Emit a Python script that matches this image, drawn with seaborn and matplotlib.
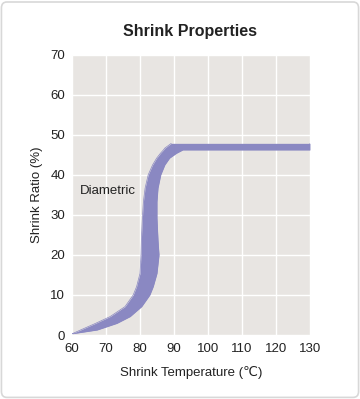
import numpy as np
import pandas as pd
import seaborn as sns
import matplotlib.pyplot as plt
from matplotlib.patches import FancyBboxPatch

# band: shrink ratio levels and the left / right edge temperatures
ratio = [0.3, 1.25, 2.9, 4.6, 7.1, 10, 12.1, 15.4, 20, 23.75, 29.2, 33.3, 36.7, 40, 42.5, 44.2, 45.4,
         46.25, 46.25, 46.7, 47.9]
temp_left = [60, 62.5, 66.9, 71.2, 75.6, 78.0, 79.0, 80.0, 80.3, 80.4, 80.7, 81.0, 81.5, 82.4, 83.7, 84.9, 86.0,
             86.9, 86.9, 87.3, 89.2]
temp_right = [60, 67.4, 73.2, 77.1, 80.5, 82.9, 83.9, 85.0, 85.6, 85.3, 85.0, 85.0, 85.3, 86.1, 87.3, 88.7, 90.7,
              92.6, 130, 130, 130]

x_ticks = [60, 70, 80, 90, 100, 110, 120, 130]
y_ticks = [0, 10, 20, 30, 40, 50, 60, 70]

band_color = '#8a88c2'
bg_color = '#e8e5e2'

sns.set_theme(style='darkgrid')
plt.rcParams['font.family'] = ['Liberation Sans', 'DejaVu Sans']

fig = plt.figure(figsize=(3.6, 3.99), dpi=100)
fig.patch.set_facecolor('white')
fig.patches.append(FancyBboxPatch((0.004, 0.004), 0.992, 0.991,
                                  boxstyle='round,pad=0,rounding_size=0.015',
                                  transform=fig.transFigure, facecolor='none',
                                  edgecolor='#d8d8d8', linewidth=1.2))

ax = fig.add_axes([0.2, 0.1604, 0.661, 0.702])
ax.set_facecolor(bg_color)
ax.grid(True, color='white', linewidth=1.0)
ax.set_axisbelow(True)
for s in ax.spines.values():
    s.set_visible(False)

df = pd.DataFrame({'ratio': ratio, 'left': temp_left, 'right': temp_right})
ax.fill_betweenx(df['ratio'], df['left'], df['right'], color=band_color, linewidth=0)
sns.lineplot(data=df, x='left', y='ratio', sort=False, estimator=None, color=band_color, linewidth=0.5, ax=ax)
sns.lineplot(data=df, x='right', y='ratio', sort=False, estimator=None, color=band_color, linewidth=0.5, ax=ax)

ax.set_xlim(60, 130)
ax.set_ylim(0, 70)
ax.set_xticks(x_ticks)
ax.set_yticks(y_ticks)
tick_font = ['Liberation Sans Narrow', 'Liberation Sans']
ax.set_xticklabels([str(v) for v in x_ticks], family=tick_font, fontsize=9.5, color='#222222')
ax.set_yticklabels([str(v) for v in y_ticks], family=tick_font, fontsize=9.5, color='#222222')
ax.tick_params(axis='both', length=0)
ax.tick_params(axis='x', pad=6)
ax.tick_params(axis='y', pad=5)

ax.set_xlabel('Shrink Temperature (\u2103)', fontsize=9.5, color='#222222', labelpad=8)
ax.set_ylabel('Shrink Ratio (%)', fontsize=9.5, color='#222222', labelpad=5)

ax.text(62.3, 36.1, 'Diametric', fontsize=9.5, color='#222222', va='center', ha='left')

fig.text(0.528, 0.92, 'Shrink Properties', ha='center', va='center',
         fontsize=11.5, fontweight='bold', color='#222222')

fig.savefig('out.png', dpi=100)
